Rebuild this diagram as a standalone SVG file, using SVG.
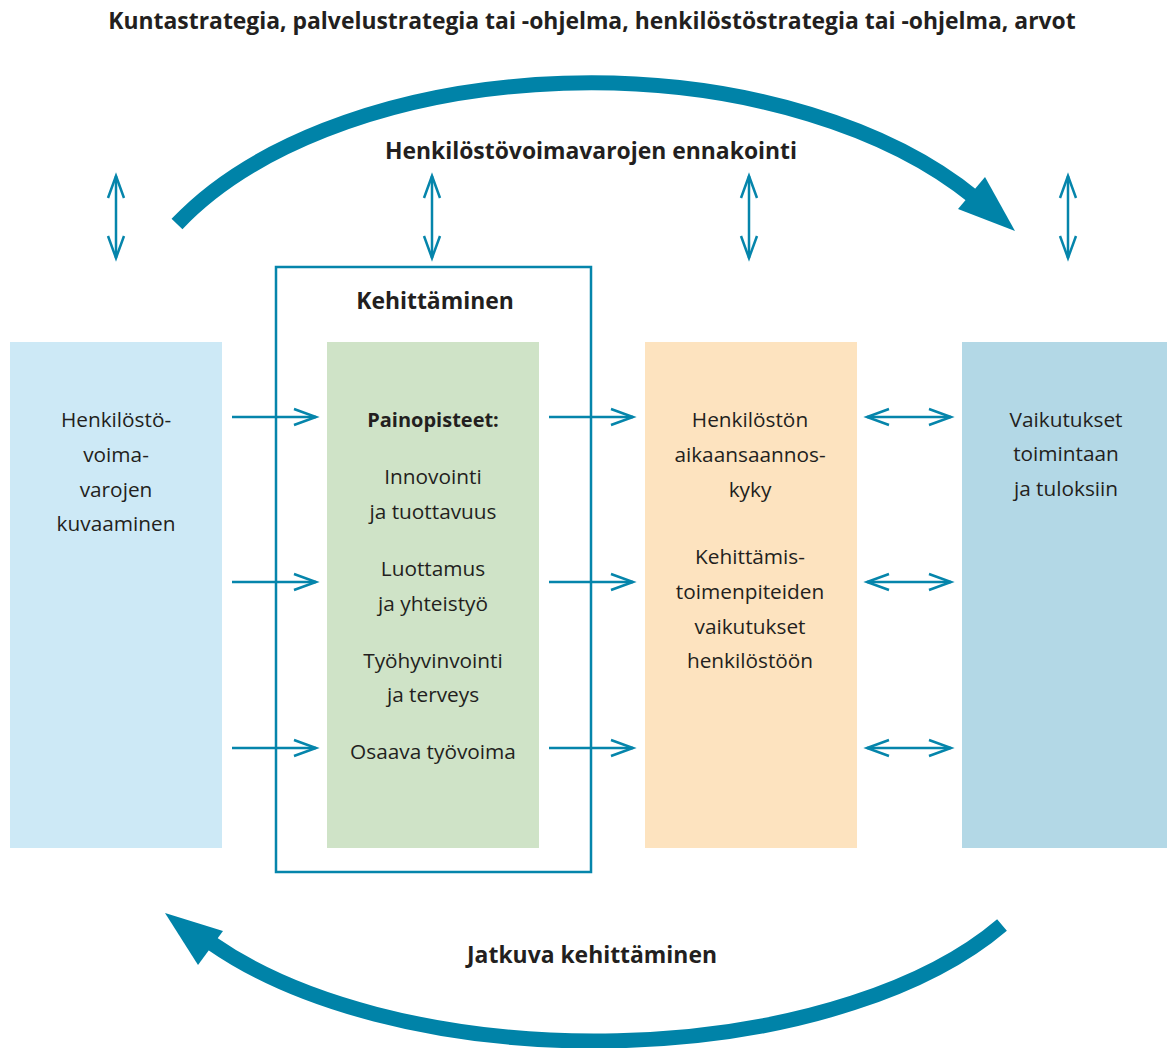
<svg xmlns="http://www.w3.org/2000/svg" width="1167" height="1048" viewBox="0 0 1167 1048">
<style>
text{font-family:"Open Sans","Noto Sans","Liberation Sans",sans-serif;fill:#231f20;text-anchor:middle;font-size:20.8px}
.b{font-weight:bold;font-size:20px}
.h{font-weight:bold;font-size:22.9px}
.arr{stroke:#0585ab;stroke-width:2.5;fill:none}
.big{stroke:#0083a8;stroke-width:15;fill:none}
.head{fill:#0083a8}
</style>
<defs>
<marker id="chev" markerUnits="userSpaceOnUse" markerWidth="30" markerHeight="24" viewBox="-26 -12 30 24" refX="0" refY="0" orient="auto-start-reverse">
<path d="M -22 -8 L 0 0 L -22 8" fill="none" stroke="#0585ab" stroke-width="2.5"/>
</marker>
</defs>
<text class="h" x="592" y="29">Kuntastrategia, palvelustrategia tai -ohjelma, henkilöstöstrategia tai -ohjelma, arvot</text>
<g id="cycle-top">
<path class="big" d="M 177 224 A 470 270 0 0 1 975 198"/>
<polygon class="head" points="1015,231 985,177 958,209"/>
<text class="h" x="591" y="159">Henkilöstövoimavarojen ennakointi</text>
</g>
<g id="cycle-bottom">
<path class="big" d="M 1002 925 A 470 232 0 0 1 212 943.5"/>
<polygon class="head" points="165,913 223,931 198,965"/>
<text class="h" x="592" y="963">Jatkuva kehittäminen</text>
</g>
<g id="node-kuvaaminen">
<rect x="10" y="342" width="212" height="506" fill="#cde9f6"/>
<text x="116" y="427">Henkilöstö-</text>
<text x="116" y="462">voima-</text>
<text x="116" y="497">varojen</text>
<text x="116" y="531">kuvaaminen</text>
</g>
<g id="node-kehittaminen">
<rect x="276" y="267" width="315" height="605" fill="none" stroke="#0585ab" stroke-width="2.5"/>
<text class="h" x="435" y="309">Kehittäminen</text>
</g>
<g id="node-painopisteet">
<rect x="327" y="342" width="212" height="506" fill="#cfe3c7"/>
<text class="b" x="433" y="427">Painopisteet:</text>
<text x="433" y="484">Innovointi</text>
<text x="433" y="519">ja tuottavuus</text>
<text x="433" y="576">Luottamus</text>
<text x="433" y="611">ja yhteistyö</text>
<text x="433" y="668">Työhyvinvointi</text>
<text x="433" y="702">ja terveys</text>
<text x="433" y="759">Osaava työvoima</text>
</g>
<g id="node-aikaansaannoskyky">
<rect x="645" y="342" width="212" height="506" fill="#fde3bf"/>
<text x="750" y="427">Henkilöstön</text>
<text x="750" y="462">aikaansaannos-</text>
<text x="750" y="497">kyky</text>
<text x="750" y="564">Kehittämis-</text>
<text x="750" y="599">toimenpiteiden</text>
<text x="750" y="634">vaikutukset</text>
<text x="750" y="668">henkilöstöön</text>
</g>
<g id="node-vaikutukset">
<rect x="962" y="342" width="205" height="506" fill="#b3d8e6"/>
<text x="1066" y="427">Vaikutukset</text>
<text x="1066" y="461">toimintaan</text>
<text x="1066" y="496">ja tuloksiin</text>
</g>
<g id="connectors">
<line class="arr" x1="116" y1="176" x2="116" y2="258" marker-start="url(#chev)" marker-end="url(#chev)"/>
<line class="arr" x1="432" y1="176" x2="432" y2="258" marker-start="url(#chev)" marker-end="url(#chev)"/>
<line class="arr" x1="749" y1="176" x2="749" y2="258" marker-start="url(#chev)" marker-end="url(#chev)"/>
<line class="arr" x1="1068" y1="176" x2="1068" y2="258" marker-start="url(#chev)" marker-end="url(#chev)"/>
<line class="arr" x1="232" y1="417" x2="316" y2="417" marker-end="url(#chev)"/>
<line class="arr" x1="232" y1="582" x2="316" y2="582" marker-end="url(#chev)"/>
<line class="arr" x1="232" y1="748" x2="316" y2="748" marker-end="url(#chev)"/>
<line class="arr" x1="549" y1="417" x2="633" y2="417" marker-end="url(#chev)"/>
<line class="arr" x1="549" y1="582" x2="633" y2="582" marker-end="url(#chev)"/>
<line class="arr" x1="549" y1="748" x2="633" y2="748" marker-end="url(#chev)"/>
<line class="arr" x1="867" y1="417" x2="951" y2="417" marker-start="url(#chev)" marker-end="url(#chev)"/>
<line class="arr" x1="867" y1="582" x2="951" y2="582" marker-start="url(#chev)" marker-end="url(#chev)"/>
<line class="arr" x1="867" y1="748" x2="951" y2="748" marker-start="url(#chev)" marker-end="url(#chev)"/>
</g>
</svg>
